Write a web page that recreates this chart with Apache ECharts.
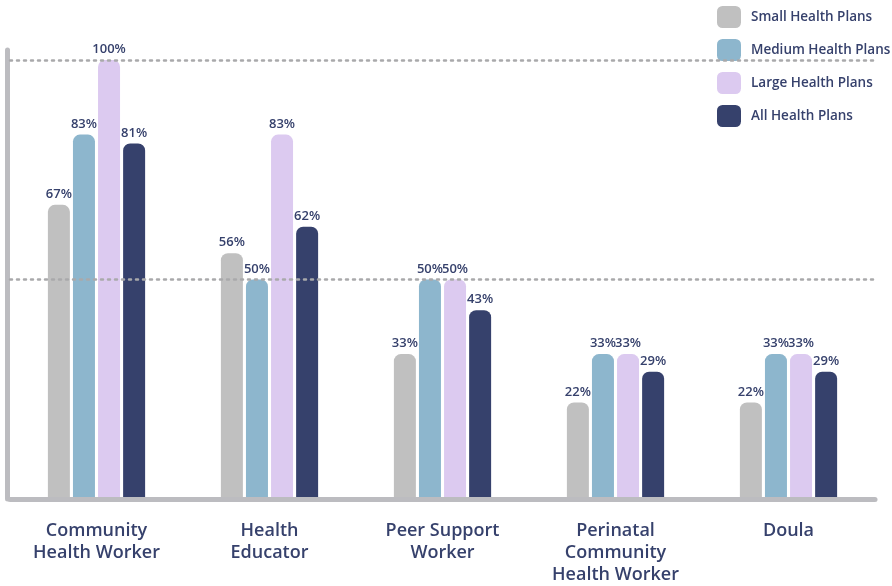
<!DOCTYPE html>
<html>
<head>
<meta charset="utf-8">
<script src="https://cdn.jsdelivr.net/npm/echarts@6/dist/echarts.min.js"></script>
<style>
  html, body { margin: 0; padding: 0; background: #fff; }
  #chart { width: 892px; height: 586px; }
</style>
</head>
<body>
<div id="chart"></div>
<script>
var categories = ['Community\nHealth Worker', 'Health\nEducator', 'Peer Support\nWorker', 'Perinatal\nCommunity\nHealth Worker', 'Doula']
var smallPlans = [67, 56, 33, 22, 22]
var mediumPlans = [83, 50, 50, 33, 33]
var largePlans = [100, 83, 50, 33, 33]
var allPlans = [81, 62, 43, 29, 29]
var gridLines = [50, 100]

var navy = '#36416c'
var font = 'Open Sans'

var chart = echarts.init(document.getElementById('chart'))

function barSeries(name, color, data, withGrid) {
  var s = {
    name: name,
    type: 'bar',
    data: data,
    barWidth: 22,
    barGap: '14%',
    itemStyle: {
      color: color,
      borderRadius: [7, 7, 2, 2]
    },
    label: {
      show: true,
      position: 'top',
      distance: 4,
      formatter: '{c}%',
      color: navy,
      fontFamily: font,
      fontWeight: 600,
      fontSize: 13
    }
  }
  if (withGrid) {
    s.markLine = {
      silent: true,
      symbol: 'none',
      label: { show: false },
      lineStyle: {
        color: '#a9a9ab',
        type: [2, 5],
        width: 2.5,
        cap: 'round'
      },
      data: gridLines.map(function (v) { return { yAxis: v } })
    }
  }
  return s
}

chart.setOption({
  backgroundColor: '#fff',
  animation: false,
  grid: {
    left: 10,
    right: 17,
    top: 50,
    bottom: 86
  },
  legend: {
    orient: 'vertical',
    left: 688,
    top: 6,
    padding: [0, 0, 0, 29],
    backgroundColor: '#fff',
    itemWidth: 24,
    itemHeight: 22,
    itemGap: 11,
    icon: 'roundRect',
    textStyle: {
      color: navy,
      fontFamily: font,
      fontWeight: 600,
      fontSize: 13.5,
      padding: [0, 0, 0, 5]
    },
    data: ['Small Health Plans', 'Medium Health Plans', 'Large Health Plans', 'All Health Plans']
  },
  xAxis: {
    type: 'category',
    data: categories,
    z: 5,
    axisLine: {
      lineStyle: { color: '#bcbcc0', width: 5 }
    },
    axisTick: { show: false },
    axisLabel: {
      margin: 21,
      color: navy,
      fontFamily: font,
      fontWeight: 600,
      fontSize: 18,
      lineHeight: 22
    }
  },
  yAxis: {
    type: 'value',
    min: 0,
    max: 100 * 450 / 440,
    offset: 3,
    axisLine: {
      show: true,
      lineStyle: { color: '#bcbcc0', width: 5 }
    },
    axisTick: { show: false },
    axisLabel: { show: false },
    splitLine: { show: false }
  },
  series: [
    barSeries('Small Health Plans', '#c0c0c0', smallPlans, true),
    barSeries('Medium Health Plans', '#8db6cd', mediumPlans),
    barSeries('Large Health Plans', '#dccaf0', largePlans),
    barSeries('All Health Plans', navy, allPlans)
  ]
})
</script>
</body>
</html>
